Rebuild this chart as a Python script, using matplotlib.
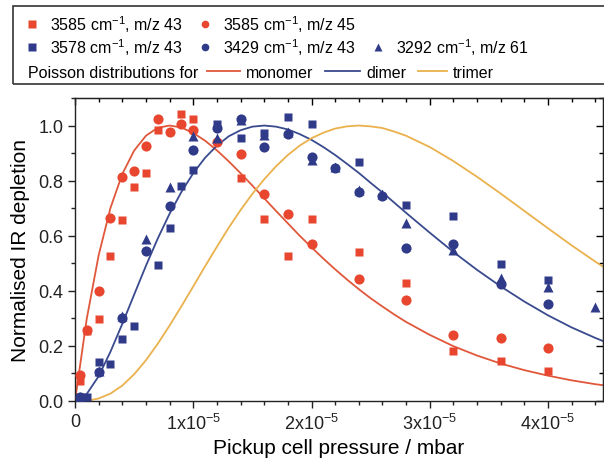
import numpy as np
import matplotlib
matplotlib.use("Agg")
import matplotlib.pyplot as plt
from matplotlib.lines import Line2D
from matplotlib.patches import Rectangle
from matplotlib.ticker import MultipleLocator, FixedLocator, FixedFormatter

plt.rcParams['font.family'] = ['Liberation Sans', 'DejaVu Sans']
plt.rcParams['mathtext.fontset'] = 'custom'
plt.rcParams['mathtext.rm'] = 'Liberation Sans'
plt.rcParams['mathtext.it'] = 'Liberation Sans:italic'
plt.rcParams['mathtext.bf'] = 'Liberation Sans:bold'

# pressures in units of 1e-5 mbar
# 3585 cm-1, m/z 43 (red squares)
p_r43 = [0.04, 0.1, 0.2, 0.3, 0.4, 0.5, 0.6, 0.7, 0.9, 1.0, 1.4, 1.6, 1.8, 2.0, 2.4, 2.8, 3.2, 3.6, 4.0]
v_r43 = [0.074, 0.255, 0.296, 0.526, 0.658, 0.777, 0.828, 0.983, 1.041, 1.022, 0.811, 0.662, 0.528, 0.662,
         0.541, 0.428, 0.183, 0.144, 0.110]
# 3585 cm-1, m/z 45 (red circles)
p_r45 = [0.04, 0.1, 0.2, 0.3, 0.4, 0.5, 0.6, 0.7, 0.8, 0.9, 1.0, 1.2, 1.4, 1.6, 1.8, 2.0, 2.4, 2.8, 3.2, 3.6, 4.0]
v_r45 = [0.096, 0.259, 0.401, 0.664, 0.813, 0.835, 0.925, 1.022, 0.977, 1.007, 0.983, 0.94, 0.898, 0.753,
         0.678, 0.571, 0.444, 0.367, 0.241, 0.228, 0.193]
# 3578 cm-1, m/z 43 (blue squares)
p_b43 = [0.04, 0.1, 0.2, 0.3, 0.4, 0.5, 0.7, 0.8, 0.9, 1.0, 1.2, 1.4, 1.6, 1.8, 2.0, 2.4, 2.8, 3.2, 3.6, 4.0]
v_b43 = [0.013, 0.013, 0.143, 0.135, 0.225, 0.274, 0.492, 0.628, 0.781, 0.840, 1.004, 0.955, 0.973, 1.031,
         1.007, 0.868, 0.710, 0.672, 0.498, 0.441]
# 3429 cm-1, m/z 43 (blue circles)
p_c43 = [0.04, 0.2, 0.4, 0.6, 0.8, 1.0, 1.2, 1.4, 1.6, 1.8, 2.0, 2.2, 2.4, 2.6, 2.8, 3.2, 3.6, 4.0]
v_c43 = [0.013, 0.104, 0.30, 0.543, 0.708, 0.910, 0.991, 1.022, 0.922, 0.97, 0.886, 0.847, 0.759, 0.744,
         0.555, 0.571, 0.425, 0.353]
# 3292 cm-1, m/z 61 (blue triangles)
p_t61 = [0.04, 0.2, 0.4, 0.6, 0.8, 1.0, 1.2, 1.4, 1.6, 1.8, 2.0, 2.2, 2.4, 2.6, 2.8, 3.2, 3.6, 4.0, 4.4]
v_t61 = [0.013, 0.11, 0.308, 0.587, 0.777, 0.961, 0.955, 1.02, 0.965, 0.975, 0.874, 0.85, 0.765, 0.75,
         0.647, 0.547, 0.446, 0.413, 0.341]

# Poisson curves
p_fit = [0.0, 0.1, 0.2, 0.3, 0.4, 0.5, 0.6, 0.7, 0.8, 0.9, 1.0, 1.1, 1.2, 1.3, 1.4, 1.5, 1.6, 1.7, 1.8,
         1.9, 2.0, 2.1, 2.2, 2.3, 2.4, 2.5, 2.6, 2.7, 2.8, 3.0, 3.2, 3.4, 3.6, 3.8, 4.0, 4.2, 4.4, 4.6]
monomer = [0.0, 0.300, 0.529, 0.701, 0.824, 0.909, 0.963, 0.992, 1.0, 0.993, 0.973, 0.945, 0.910, 0.870,
           0.827, 0.782, 0.736, 0.690, 0.645, 0.600, 0.558, 0.517, 0.478, 0.441, 0.406, 0.373, 0.343,
           0.314, 0.287, 0.240, 0.199, 0.165, 0.136, 0.112, 0.092, 0.075, 0.061, 0.050]
dimer = [0.0, 0.026, 0.090, 0.179, 0.280, 0.386, 0.491, 0.590, 0.680, 0.759, 0.827, 0.883, 0.927, 0.961,
         0.983, 0.996, 1.0, 0.996, 0.986, 0.969, 0.948, 0.922, 0.893, 0.861, 0.828, 0.792, 0.757, 0.720,
         0.683, 0.611, 0.541, 0.476, 0.416, 0.361, 0.311, 0.267, 0.229, 0.194]
trimer = [0.0, 0.001, 0.009, 0.027, 0.056, 0.097, 0.148, 0.208, 0.274, 0.344, 0.416, 0.489, 0.560, 0.629,
          0.693, 0.752, 0.805, 0.852, 0.893, 0.927, 0.954, 0.974, 0.989, 0.997, 1.0, 0.997, 0.991, 0.978,
          0.963, 0.922, 0.871, 0.814, 0.753, 0.690, 0.627, 0.565, 0.506, 0.450]

xtick_vals = [0, 1, 2, 3, 4]
xtick_labels = ['0', '1x10$^{\\mathregular{-5}}$', '2x10$^{\\mathregular{-5}}$',
                '3x10$^{\\mathregular{-5}}$', '4x10$^{\\mathregular{-5}}$']

RED = '#e8462e'
BLUE = '#2f3b88'
C_MONO = '#e0573a'
C_DI = '#394a8e'
C_TRI = '#eab14c'

W, H = 604, 464
fig = plt.figure(figsize=(W / 100, H / 100), dpi=100)
ax = fig.add_axes([75 / W, 62 / H, 528 / W, 303 / H])

sc = 1e-5
ax.plot(np.array(p_fit) * sc, monomer, color=C_MONO, lw=1.3, zorder=2)
ax.plot(np.array(p_fit) * sc, dimer, color=C_DI, lw=1.3, zorder=2)
ax.plot(np.array(p_fit) * sc, trimer, color=C_TRI, lw=1.3, zorder=2)

ax.plot(np.array(p_r43) * sc, v_r43, 's', color=RED, ms=6.3, mec='none', zorder=3)
ax.plot(np.array(p_r45) * sc, v_r45, 'o', color=RED, ms=7.3, mec='none', zorder=3)
ax.plot(np.array(p_b43) * sc, v_b43, 's', color=BLUE, ms=6.3, mec='none', zorder=3)
ax.plot(np.array(p_c43) * sc, v_c43, 'o', color=BLUE, ms=7.3, mec='none', zorder=3)
ax.plot(np.array(p_t61) * sc, v_t61, '^', color=BLUE, ms=7.3, mec='none', zorder=3)

ax.set_xlim(0, 528 / 118.25 * sc)
ax.set_ylim(0, 1.1)

ax.xaxis.set_major_locator(FixedLocator(np.array(xtick_vals) * sc))
ax.xaxis.set_major_formatter(FixedFormatter(xtick_labels))
ax.xaxis.set_minor_locator(MultipleLocator(0.2 * sc))
ax.yaxis.set_major_locator(MultipleLocator(0.2))
ax.yaxis.set_minor_locator(MultipleLocator(0.1))
ax.yaxis.set_major_formatter(plt.FormatStrFormatter('%.1f'))

for s in ax.spines.values():
    s.set_linewidth(1.0)
    s.set_color('#222222')
ax.tick_params(which='both', direction='out', width=1.0, colors='#222222', labelsize=13)
ax.tick_params(which='major', length=5)
ax.tick_params(which='minor', length=3)

# mirrored ticks pointing into the plot on top and right
top = ax.secondary_xaxis('top')
top.xaxis.set_major_locator(FixedLocator(np.array(xtick_vals) * sc))
top.xaxis.set_minor_locator(MultipleLocator(0.2 * sc))
top.tick_params(which='both', direction='in', width=1.0, labeltop=False)
top.tick_params(which='major', length=5)
top.tick_params(which='minor', length=3)
right = ax.secondary_yaxis('right')
right.yaxis.set_major_locator(MultipleLocator(0.2))
right.yaxis.set_minor_locator(MultipleLocator(0.1))
right.tick_params(which='both', direction='in', width=1.0, labelright=False)
right.tick_params(which='major', length=5)
right.tick_params(which='minor', length=3)

ax.set_xlabel('Pickup cell pressure / mbar', fontsize=15, labelpad=4)
ax.set_ylabel('Normalised IR depletion', fontsize=15, labelpad=6)


# legend, drawn by hand in pixel positions
def fx(px):
    return px / W


def fy(py):
    return 1 - py / H


fig.add_artist(Rectangle((fx(13), fy(85)), fx(620) - fx(13), fy(7) - fy(85),
                         transform=fig.transFigure, fill=False, ec='#333333', lw=1.2, clip_on=False))

leg_fs = 11.5
rows = [25, 48, 72]
entries = [
    (rows[0], 32, 's', RED, '3585 cm$^{\\mathregular{-1}}$, m/z 43'),
    (rows[0], 205, 'o', RED, '3585 cm$^{\\mathregular{-1}}$, m/z 45'),
    (rows[1], 32, 's', BLUE, '3578 cm$^{\\mathregular{-1}}$, m/z 43'),
    (rows[1], 205, 'o', BLUE, '3429 cm$^{\\mathregular{-1}}$, m/z 43'),
    (rows[1], 378, '^', BLUE, '3292 cm$^{\\mathregular{-1}}$, m/z 61'),
]
for y, x, m, c, lab in entries:
    fig.add_artist(Line2D([fx(x)], [fy(y)], marker=m, color=c, ms=5.5, mec='none',
                          transform=fig.transFigure))
    fig.text(fx(x + 18), fy(y + 6), lab, fontsize=leg_fs, va='baseline', ha='left')

fig.text(fx(28), fy(rows[2] + 6), 'Poisson distributions for', fontsize=leg_fs, va='baseline')
line_entries = [(207, 240, C_MONO, 'monomer'), (325, 360, C_DI, 'dimer'), (418, 447, C_TRI, 'trimer')]
for x0, x1, c, lab in line_entries:
    fig.add_artist(Line2D([fx(x0), fx(x1)], [fy(rows[2]), fy(rows[2])], color=c, lw=1.3,
                          transform=fig.transFigure))
    fig.text(fx(x1 + 6), fy(rows[2] + 6), lab, fontsize=leg_fs, va='baseline')

fig.savefig('out.png', dpi=100)
